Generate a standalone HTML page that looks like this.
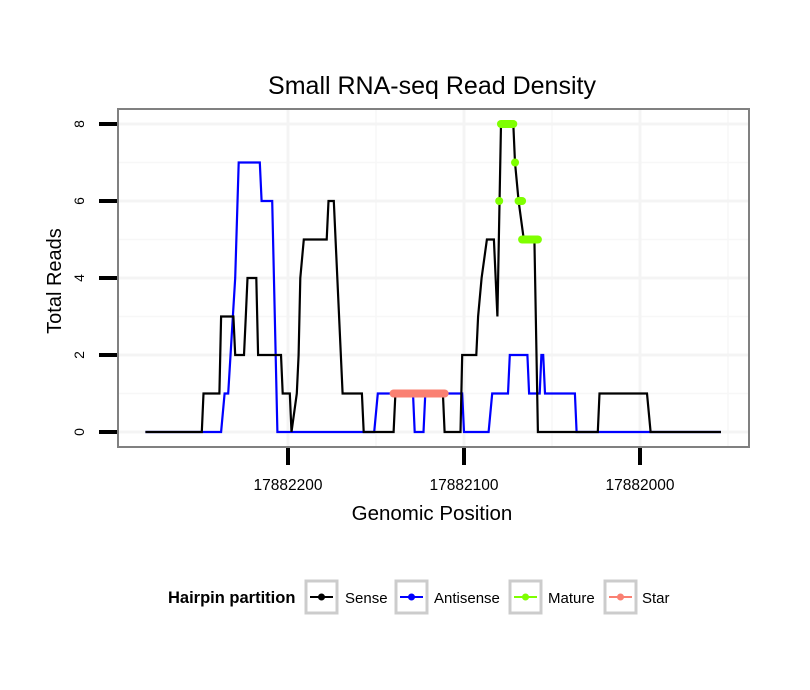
<!DOCTYPE html>
<html><head><meta charset="utf-8"><style>
body{margin:0;background:#fff;}
svg{display:block;font-family:"Liberation Sans",sans-serif;}
</style></head><body>
<svg id="chart" width="810" height="690" viewBox="0 0 810 690" xmlns="http://www.w3.org/2000/svg">
<rect x="0" y="0" width="810" height="690" fill="#fff"/>
<text x="432" y="94" text-anchor="middle" font-size="25">Small RNA-seq Read Density</text>
<g id="grid"></g>
<g id="series"></g>
<rect x="118" y="109" width="631" height="338" fill="none" stroke="#808080" stroke-width="2"/>
<g id="axes"></g>
<text x="432" y="520" text-anchor="middle" font-size="20.5">Genomic Position</text>
<text transform="translate(61,281) rotate(-90)" text-anchor="middle" font-size="20">Total Reads</text>
<g>
<text x="168" y="603" font-size="16.5" font-weight="bold">Hairpin partition</text>
<g>
<rect x="306" y="581" width="31" height="32" fill="#fff" stroke="#ccc" stroke-width="3"/>
<line x1="310" y1="597" x2="333" y2="597" stroke="#000" stroke-width="2"/><circle cx="321.5" cy="597" r="3.5" fill="#000"/>
<text x="345" y="603" font-size="15">Sense</text></g>
<g>
<rect x="396" y="581" width="31" height="32" fill="#fff" stroke="#ccc" stroke-width="3"/>
<line x1="400" y1="597" x2="423" y2="597" stroke="#0000ff" stroke-width="2"/><circle cx="411.5" cy="597" r="3.5" fill="#0000ff"/>
<text x="434" y="603" font-size="15">Antisense</text></g>
<g>
<rect x="510" y="581" width="31" height="32" fill="#fff" stroke="#ccc" stroke-width="3"/>
<line x1="514" y1="597" x2="537" y2="597" stroke="#7fff00" stroke-width="2"/><circle cx="525.5" cy="597" r="3.5" fill="#7fff00"/>
<text x="548" y="603" font-size="15">Mature</text></g>
<g>
<rect x="605" y="581" width="31" height="32" fill="#fff" stroke="#ccc" stroke-width="3"/>
<line x1="609" y1="597" x2="632" y2="597" stroke="#fa8072" stroke-width="2"/><circle cx="620.5" cy="597" r="3.5" fill="#fa8072"/>
<text x="642" y="603" font-size="15">Star</text></g>
</g>
</svg>
<script>
const xTicks = [17882200, 17882100, 17882000];
const xTickLabels = ["17882200", "17882100", "17882000"];
const xMinorTicks = [17882150, 17882050, 17881950];
const yTicks = [0, 2, 4, 6, 8];
const yMinorTicks = [1, 3, 5, 7];
const sensePos = [17882281,17882249,17882248,17882239,17882238,17882231,17882230,17882225,17882224,17882223,17882218,17882217,17882204,17882203,17882199,17882198,17882195,17882194,17882193,17882191,17882178,17882177,17882174,17882169,17882158,17882157,17882140,17882139,17882112,17882111,17882102,17882101,17882093,17882092,17882090,17882087,17882083,17882081,17882079,17882072,17882071,17882069,17882066,17882060,17882058,17882024,17882023,17881996,17881994,17881954];
const senseVal = [0,0,1,1,3,3,2,2,3,4,4,2,2,1,1,0,1,2,4,5,5,6,6,1,1,0,0,1,1,0,0,2,2,3,4,5,5,3,8,8,7,6,5,5,0,0,1,1,0,0];
const antiPos = [17882281,17882238,17882236,17882234,17882230,17882228,17882216,17882215,17882209,17882206,17882151,17882149,17882129,17882128,17882123,17882122,17882101,17882100,17882086,17882084,17882075,17882074,17882064,17882063,17882057,17882056,17882055,17882054,17882037,17882036,17881954];
const antiVal = [0,0,1,1,4,7,7,6,6,0,0,1,1,0,0,1,1,0,0,1,1,2,2,1,1,2,2,1,1,0,0];
const matureStart = [17882079, 17882071, 17882080, 17882069, 17882067];
const matureEnd = [17882072, 17882071, 17882080, 17882067, 17882058];
const matureVal = [8, 7, 6, 6, 5];
const starStart = [17882140];
const starEnd = [17882111];
const starVal = [1];

const NS = "http://www.w3.org/2000/svg";
function xs(p){ return 288 + (17882200 - p) * 1.76; }
function ys(v){ return 432 - v * 38.5; }
function mk(tag, attrs, parent){ const e = document.createElementNS(NS, tag); for (const k in attrs) e.setAttribute(k, attrs[k]); parent.appendChild(e); return e; }
const grid = document.getElementById('grid'), axes = document.getElementById('axes'), series = document.getElementById('series');
mk('rect', {x:118,y:109,width:631,height:338,fill:'#fff'}, grid);
yMinorTicks.forEach(v => { const l = mk('line', {x1:118,x2:749,y1:ys(v),y2:ys(v),stroke:'#f7f7f7','stroke-width':1.5}, grid);

 });
xMinorTicks.forEach(p => { const l = mk('line', {x1:xs(p),x2:xs(p),y1:109,y2:447,stroke:'#f7f7f7','stroke-width':1.5}, grid);

 });
yTicks.forEach(v => { const l = mk('line', {x1:118,x2:749,y1:ys(v),y2:ys(v),stroke:'#f4f4f4','stroke-width':3}, grid);

 });
xTicks.forEach(p => { const l = mk('line', {x1:xs(p),x2:xs(p),y1:109,y2:447,stroke:'#f4f4f4','stroke-width':3}, grid);

 });
function poly(pos, val, color, name){
  const pts = pos.map((p,i) => xs(p).toFixed(1) + ',' + ys(val[i]).toFixed(1)).join(' ');
  const e = mk('polyline', {points:pts, fill:'none', stroke:color, 'stroke-width':2.2, 'stroke-linejoin':'miter'}, series);
  
  
}
poly(antiPos, antiVal, '#0000ff', 'antisense-line');
poly(sensePos, senseVal, '#000', 'sense-line');
function segs(s, e2, v, color, name){
  s.forEach((p,i) => { const l = mk('line', {x1:xs(p), x2:xs(e2[i]), y1:ys(v[i]), y2:ys(v[i]), stroke:color, 'stroke-width':8, 'stroke-linecap':'round'}, series);
  
   });
}
segs(starStart, starEnd, starVal, '#fa8072', 'star-segment');
segs(matureStart, matureEnd, matureVal, '#7fff00', 'mature-segment');
yTicks.forEach(v => {
  const t = mk('line', {x1:99,x2:117,y1:ys(v),y2:ys(v),stroke:'#000','stroke-width':4}, axes);
  
  
  const tx = mk('text', {transform:'translate(84,' + ys(v) + ') rotate(-90)', 'text-anchor':'middle', 'font-size':14}, axes);
  tx.textContent = String(v);
  
  
});
xTicks.forEach((p,i) => {
  const t = mk('line', {x1:xs(p),x2:xs(p),y1:448,y2:465,stroke:'#000','stroke-width':4}, axes);
  
  
  const tx = mk('text', {x:xs(p), y:490, 'text-anchor':'middle', 'font-size':15.5}, axes);
  tx.textContent = xTickLabels[i];
  
  
});
</script>
</body></html>
